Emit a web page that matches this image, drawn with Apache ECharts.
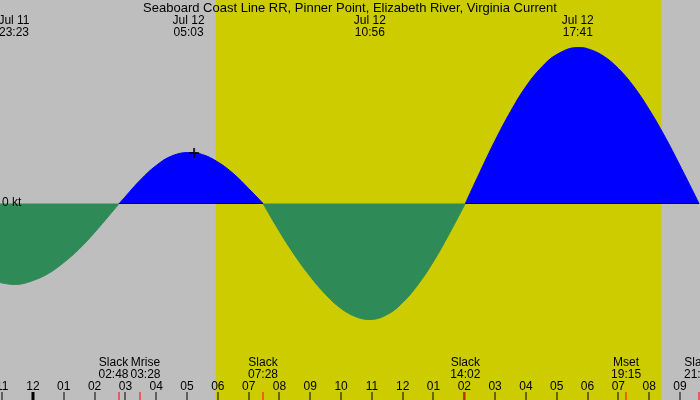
<!DOCTYPE html>
<html>
<head>
<meta charset="utf-8">
<title>Seaboard Coast Line RR current</title>
<script src="https://cdn.jsdelivr.net/npm/echarts@6/dist/echarts.min.js"></script>
<style>
    html, body { margin: 0; padding: 0; background: #bebebe; }
    #main { width: 700px; height: 400px; }
</style>
</head>
<body>
<div id="main"></div>
<script>
// current speed (kt), hours counted from Jul 12 00:00
var hours = [-1.07, -1.0, -0.617, -0.5, 0, 0.5, 1.0, 1.5, 2.0, 2.5,
    2.8, 3.0, 3.5, 4.0, 4.5, 5.05, 5.5, 6.0, 6.5, 7.0,
    7.467, 8.0, 8.5, 9.0, 9.5, 10.0, 10.5, 10.933, 11.5, 12.0,
    12.5, 13.0, 13.5, 14.033, 14.5, 15.0, 15.5, 16.0, 16.5, 17.0,
    17.683, 18.0, 18.5, 19.0, 19.5, 20.0, 20.5, 21.0, 21.62];
var speeds = [-0.79, -0.795, -0.81, -0.809, -0.77, -0.70, -0.59, -0.455, -0.29, -0.11,
    0, 0.07, 0.24, 0.38, 0.475, 0.51, 0.49, 0.415, 0.30, 0.15,
    0, -0.28, -0.52, -0.73, -0.91, -1.05, -1.135, -1.16, -1.11, -0.99,
    -0.81, -0.58, -0.31, 0, 0.31, 0.63, 0.92, 1.17, 1.36, 1.49,
    1.56, 1.548, 1.478, 1.35, 1.17, 0.94, 0.675, 0.38, 0];

// max flood / max ebb labels along the top
var extremaDays = ['Jul 11', 'Jul 12', 'Jul 12', 'Jul 12'];
var extremaTimes = ['23:23', '05:03', '10:56', '17:41'];

// slack and moon events along the bottom
var eventNames = ['Slack', 'Mrise', 'Slack', 'Slack', 'Mset', 'Slack'];
var eventTimes = ['02:48', '03:28', '07:28', '14:02', '19:15', '21:37'];

// daylight (sunrise, sunset)
var sunTimes = ['05:56', '20:24'];

// hour tick labels, the first one is Jul 11 23:00
var firstHour = -1;
var hourLabels = ['11', '12', '01', '02', '03', '04', '05', '06', '07', '08', '09', '10',
    '11', '12', '01', '02', '03', '04', '05', '06', '07', '08', '09'];

// "+" marker
var markerPoint = [5.23, 0.505];

var xMin = -1.07, xMax = 21.65;
var yMin = -1.965, yMax = 2.035;
var FONT = '12px "Liberation Sans", Arial, sans-serif';

function toHours(t, day) {
    var p = t.split(':');
    var h = +p[0] + p[1] / 60;
    if (day === 'Jul 11') h -= 24;
    return h;
}

var measureCtx = document.createElement('canvas').getContext('2d');
measureCtx.font = FONT;
function textW(s) { return measureCtx.measureText(s).width; }

// split the curve into flood (>=0) and ebb (<=0) parts
var floodData = [], ebbData = [];
for (var i = 0; i < hours.length; i++) {
    floodData.push([hours[i], speeds[i] >= 0 ? speeds[i] : null]);
    ebbData.push([hours[i], speeds[i] <= 0 ? speeds[i] : null]);
}
// zero line under each flood lobe
var floodLines = [];
var runStart = null;
for (var i = 0; i < hours.length; i++) {
    if (speeds[i] >= 0 && runStart === null) runStart = hours[i];
    if (runStart !== null && (speeds[i] < 0 || i == hours.length - 1)) {
        var endH = speeds[i] < 0 ? hours[i - 1] : hours[i];
        if (endH - runStart > 0.5) floodLines.push([{ coord: [runStart, 0] }, { coord: [endH, 0] }]);
        runStart = null;
    }
}

var eventHours = eventTimes.map(function (t) { return toHours(t, 'Jul 12'); });
var extremaHours = extremaTimes.map(function (t, i) { return toHours(t, extremaDays[i]); });

// push overlapping bottom labels apart
function spreadLabels(xs, ws) {
    var pos = xs.slice();
    for (var k = 1; k < pos.length; k++) {
        var overlap = (pos[k - 1] + ws[k - 1] / 2 + 2) - (pos[k] - ws[k] / 2);
        if (overlap > 0) { pos[k - 1] -= overlap / 2; pos[k] += overlap / 2; }
    }
    return pos;
}

var myChart = echarts.init(document.getElementById('main'));
var option = {
    animation: false,
    backgroundColor: '#bebebe',
    title: {
        text: 'Seaboard Coast Line RR, Pinner Point, Elizabeth River, Virginia Current',
        left: 'center',
        top: 2,
        padding: 0,
        textStyle: { fontSize: 13, fontWeight: 'normal', fontFamily: '"Liberation Sans", Arial, sans-serif', color: '#000' }
    },
    grid: { left: 0, right: 0, top: 0, bottom: 0 },
    xAxis: { type: 'value', min: xMin, max: xMax, show: false },
    yAxis: { type: 'value', min: yMin, max: yMax, show: false },
    series: [
        {
            // daylight band
            type: 'custom',
            z: 1,
            silent: true,
            data: [[toHours(sunTimes[0], 'Jul 12'), toHours(sunTimes[1], 'Jul 12')]],
            renderItem: function (params, api) {
                var p0 = api.coord([api.value(0), yMax]);
                var p1 = api.coord([api.value(1), yMin]);
                return {
                    type: 'rect',
                    shape: { x: p0[0], y: p0[1], width: p1[0] - p0[0], height: p1[1] - p0[1] },
                    style: { fill: '#cccc00' }
                };
            }
        },
        {
            name: 'Ebb',
            type: 'line',
            z: 2,
            data: ebbData,
            smooth: 0.4,
            showSymbol: false,
            connectNulls: false,
            lineStyle: { color: '#2e8b57', width: 1 },
            itemStyle: { color: '#2e8b57' },
            areaStyle: { color: '#2e8b57', opacity: 1 }
        },
        {
            name: 'Flood',
            type: 'line',
            z: 3,
            data: floodData,
            smooth: 0.4,
            showSymbol: false,
            connectNulls: false,
            lineStyle: { color: '#0000ff', width: 1 },
            itemStyle: { color: '#0000ff' },
            areaStyle: { color: '#0000ff', opacity: 1 },
            markLine: {
                silent: true,
                symbol: 'none',
                label: { show: false },
                lineStyle: { color: '#000', width: 1, type: 'solid' },
                data: floodLines
            }
        },
        {
            // hour ticks and labels
            type: 'custom',
            z: 5,
            silent: true,
            data: hourLabels.map(function (l, i) { return [firstHour + i, yMin]; }),
            renderItem: function (params, api) {
                var p = api.coord([api.value(0), yMin]);
                var x = Math.round(p[0]);
                var w = api.value(0) === 0 ? 3 : 1;
                return {
                    type: 'group',
                    children: [
                        { type: 'rect', shape: { x: x - (w - 1) / 2 - 0.5, y: p[1] - 8, width: w, height: 8 }, style: { fill: '#000' } },
                        { type: 'text', style: { text: hourLabels[params.dataIndex], x: p[0], y: p[1] - 13, align: 'center', verticalAlign: 'middle', font: FONT, fill: '#000' } }
                    ]
                };
            }
        },
        {
            // event ticks and labels
            type: 'custom',
            z: 6,
            silent: true,
            data: eventHours.map(function (h) { return [h, yMin]; }),
            renderItem: function (params, api) {
                var xs = eventHours.map(function (h) { return api.coord([h, yMin])[0]; });
                var ws = eventNames.map(function (n, k) { return Math.max(textW(n), textW(eventTimes[k])); });
                var pos = spreadLabels(xs, ws);
                var k = params.dataIndex;
                var bottom = api.coord([xMin, yMin])[1];
                var x = Math.round(xs[k]);
                return {
                    type: 'group',
                    children: [
                        { type: 'rect', shape: { x: x - 0.5, y: bottom - 8, width: 1, height: 8 }, style: { fill: '#ff0000' } },
                        { type: 'text', style: { text: eventNames[k], x: pos[k], y: bottom - 37, align: 'center', verticalAlign: 'middle', font: FONT, fill: '#000' } },
                        { type: 'text', style: { text: eventTimes[k], x: pos[k], y: bottom - 25, align: 'center', verticalAlign: 'middle', font: FONT, fill: '#000' } }
                    ]
                };
            }
        },
        {
            // max / min labels along the top
            type: 'custom',
            z: 6,
            silent: true,
            data: extremaHours.map(function (h) { return [h, yMax]; }),
            renderItem: function (params, api) {
                var p = api.coord([api.value(0), yMax]);
                var k = params.dataIndex;
                return {
                    type: 'group',
                    children: [
                        { type: 'text', style: { text: extremaDays[k], x: p[0], y: p[1] + 21, align: 'center', verticalAlign: 'middle', font: FONT, fill: '#000' } },
                        { type: 'text', style: { text: extremaTimes[k], x: p[0], y: p[1] + 33, align: 'center', verticalAlign: 'middle', font: FONT, fill: '#000' } }
                    ]
                };
            }
        },
        {
            // zero label
            type: 'custom',
            z: 6,
            silent: true,
            data: [[xMin, 0]],
            renderItem: function (params, api) {
                var p = api.coord([api.value(0), api.value(1)]);
                return { type: 'text', style: { text: '0 kt', x: p[0] + 2, y: p[1] - 1, align: 'left', verticalAlign: 'middle', font: FONT, fill: '#000' } };
            }
        },
        {
            type: 'scatter',
            z: 7,
            silent: true,
            data: [markerPoint],
            symbol: 'path://M0 4h10v2h-10zM4 0h2v10h-2z',
            symbolSize: 10,
            itemStyle: { color: '#000' }
        }
    ]
};
myChart.setOption(option);
window.onresize = function () {
    myChart.resize();
};
</script>
</body>
</html>
